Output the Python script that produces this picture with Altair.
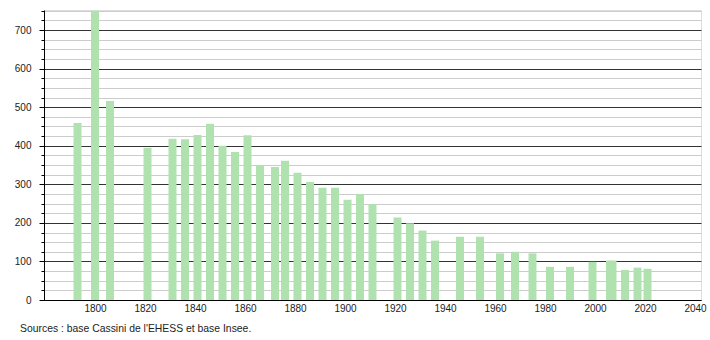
import altair as alt
import pandas as pd

years = [1793, 1800, 1806, 1821, 1831, 1836, 1841, 1846, 1851, 1856, 1861, 1866,
         1872, 1876, 1881, 1886, 1891, 1896, 1901, 1906, 1911, 1921, 1926, 1931,
         1936, 1946, 1954, 1962, 1968, 1975, 1982, 1990, 1999, 2006, 2007, 2012,
         2017, 2021]
population = [459, 750, 516, 395, 418, 417, 428, 457, 400, 384, 427, 350,
              345, 361, 330, 306, 291, 291, 260, 275, 249, 214, 199, 180,
              154, 164, 164, 121, 125, 121, 86, 86, 99, 102, 102, 78,
              84, 81]
x_ticks = [1800, 1820, 1840, 1860, 1880, 1900, 1920, 1940, 1960, 1980, 2000, 2020, 2040]
y_ticks = list(range(0, 751, 25))
source_text = ["Sources : base Cassini de l'EHESS et base Insee."]

df = pd.DataFrame({"year": years, "pop": population})

FONT = "Liberation Sans"
W, H = 657, 290

major = "datum.value % 100 === 0"

bars = alt.Chart(df).mark_bar(color="#b0e2b0", width=8).encode(
    x=alt.X("year:Q",
            scale=alt.Scale(domain=[1779.6, 2042.4], nice=False, zero=False, padding=0),
            axis=alt.Axis(values=x_ticks, format="d", title=None, ticks=False,
                          grid=False, domainColor="#000000", labelFontSize=10,
                          labelFont=FONT, labelColor="#222222", labelPadding=3,
                          labelFlush=False)),
    y=alt.Y("pop:Q",
            scale=alt.Scale(domain=[0, 752], nice=False, padding=0),
            axis=alt.Axis(values=y_ticks, title=None,
                          labelExpr="datum.value % 100 === 0 ? datum.label : ''",
                          tickSize={"condition": {"test": major, "value": 5}, "value": 3},
                          gridColor={"condition": {"test": major, "value": "#333333"}, "value": "#cccccc"},
                          gridWidth=1, tickColor="#000000", domainColor="#000000",
                          labelFontSize=10, labelFont=FONT, labelColor="#222222",
                          labelPadding=8)),
)

src = alt.Chart(pd.DataFrame({"t": source_text})).mark_text(
    align="left", baseline="middle", fontSize=10.4, font=FONT, color="#222222"
).encode(
    text="t:N",
    x=alt.value(-24),
    y=alt.value(319),
)

chart = alt.layer(bars, src).properties(
    width=W, height=H,
    autosize=alt.AutoSizeParams(type="none"),
    padding={"left": 44, "top": 10, "right": 9, "bottom": 40},
).configure_view(stroke=None).configure(background="white")

chart.save("out.html", embed_options={"renderer": "svg", "actions": False})
